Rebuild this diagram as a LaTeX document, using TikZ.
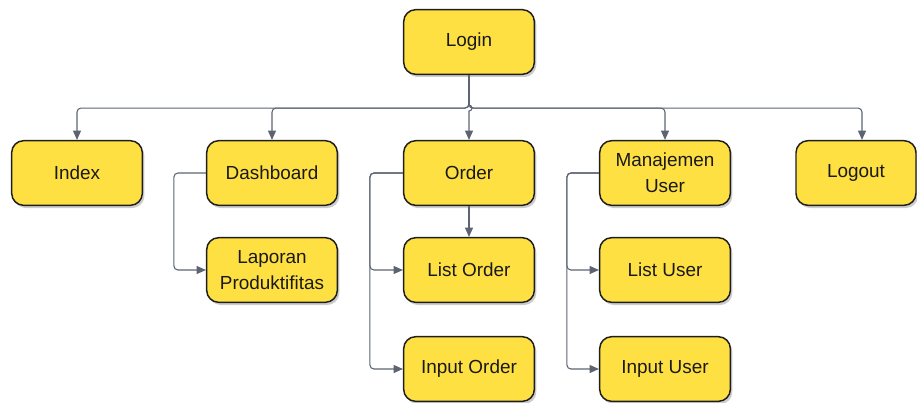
\documentclass[tikz,border=0pt]{standalone}
\usepackage{fontspec}
\setmainfont{Liberation Sans}
\usetikzlibrary{arrows.meta,shadows}

\definecolor{boxfill}{RGB}{255,224,66}
\definecolor{boxline}{RGB}{30,30,30}
\definecolor{linkgray}{RGB}{92,100,114}

\tikzset{
  box/.style={draw=boxline, line width=1.1pt, fill=boxfill, rounded corners=9pt,
    minimum width=98pt, minimum height=48.5pt, inner sep=0pt, align=center,
    font=\fontsize{14.2}{19.5}\selectfont, text=black!90,
    drop shadow={shadow xshift=1.5pt, shadow yshift=-2pt, opacity=0.2, fill=black}},
  link/.style={draw=linkgray, line width=0.8pt, rounded corners=3pt,
    -{Triangle[length=7pt,width=6pt]}},
}

\begin{document}
\begin{tikzpicture}[x=0.75pt,y=0.75pt,yscale=-1]
\useasboundingbox (0,0) rectangle (917,403);

% top level
\node[box] (login) at (469,42) {Login};

% menu row
\node[box] (index) at (77,173) {Index};
\node[box] (dashboard) at (272,173) {Dashboard};
\node[box] (order) at (469,173) {Order};
\node[box] (manajemen) at (665,173) {Manajemen\\User};
\node[box, minimum width=90pt] (logout) at (856,173) {Logout};

% sub menus
\node[box] (laporan) at (272,270) {Laporan\\Produktifitas};
\node[box] (listorder) at (469,270) {List Order};
\node[box] (inputorder) at (469,369) {Input Order};
\node[box] (listuser) at (665,270) {List User};
\node[box] (inputuser) at (665,369) {Input User};

% login to menu row
\draw[link] (login.south) -- ++(0,33) -| (index.north);
\draw[link] (login.south) -- ++(0,33) -| (dashboard.north);
\draw[link] (login.south) -- ++(0,33) -| (manajemen.north);
\draw[link] (login.south) -- ++(0,33) -| ([xshift=4.5pt]logout.north);
% straight down to order, hopping over the bus
\draw[link, rounded corners=0pt] (login.south) -- ++(0,30) arc (-90:90:3) -- (order.north);

% menu row to sub menus
\draw[link] (dashboard.west) -- ++(-32,0) |- (laporan.west);
\draw[link] (order.south) -- (listorder.north);
\draw[link] (order.west) -- ++(-33,0) |- (listorder.west);
\draw[link] (order.west) -- ++(-33,0) |- (inputorder.west);
\draw[link] (manajemen.west) -- ++(-32,0) |- (listuser.west);
\draw[link] (manajemen.west) -- ++(-32,0) |- (inputuser.west);

\end{tikzpicture}
\end{document}
